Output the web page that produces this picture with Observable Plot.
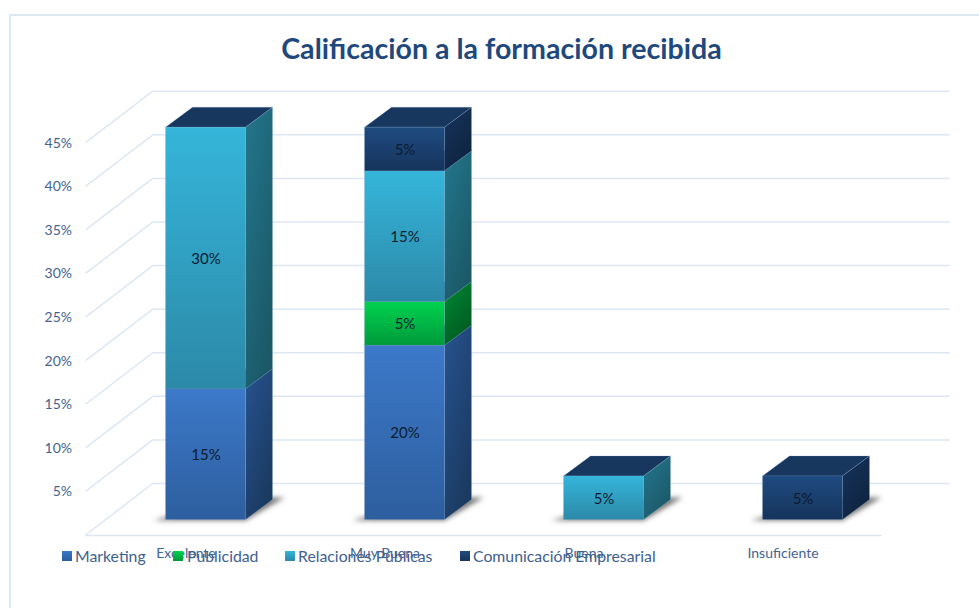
<!DOCTYPE html>
<html>
<head>
<meta charset="utf-8">
<script src="https://cdn.jsdelivr.net/npm/d3@7"></script>
<script src="https://cdn.jsdelivr.net/npm/@observablehq/plot@0.6"></script>
<style>
  html, body { margin: 0; padding: 0; background: #fff; }
  #frame { position: relative; width: 979px; height: 608px; overflow: hidden; font-family: Lato, sans-serif; }
  #frame svg { position: absolute; left: 0; top: 0; }
  #edge { position: absolute; left: 9px; top: 14px; width: 980px; height: 610px; border: 2px solid #dce7f4; box-sizing: border-box; }
  #title { position: absolute; left: 0; width: 1003px; top: 29px; text-align: center; font-size: 28.6px; font-weight: 700; color: #1f497d; line-height: 38px; }
  .lg { position: absolute; top: 545px; font-size: 15.8px; line-height: 21px; color: #40608e; white-space: nowrap; }
  .sw { position: absolute; top: 551px; width: 10px; height: 10px; }
</style>
</head>
<body>
<div id="frame"><div id="edge"></div></div>
<script>
const categories = ["Excelente", "Muy Buena", "Buena", "Insuficiente"];
const seriesNames = ["Marketing", "Publicidad", "Relaciones Públicas", "Comunicación Empresarial"];
const marketing = [15, 20, 0, 0];
const publicidad = [0, 5, 0, 0];
const relaciones = [30, 15, 5, 0];
const comunicacion = [0, 5, 0, 5];
const yTicks = [5, 10, 15, 20, 25, 30, 35, 40, 45];

const frontStops = [["#3c79c9", "#2d5e9e"], ["#00d24f", "#009a3a"], ["#35b5da", "#2c89a8"], ["#1f4b80", "#16345c"]];
const sideStops = [["#285390", "#1a3a60"], ["#008a32", "#005a22"], ["#24768c", "#1b5968"], ["#16345c", "#0f2340"]];
const topColor = "#17375e";
const legendX = [[62, 75], [173, 187], [285, 298], [460, 473]];

const rows = [];
[marketing, publicidad, relaciones, comunicacion].forEach((vals, s) => {
  vals.forEach((v, c) => { if (v > 0) rows.push({category: categories[c], series: seriesNames[s], s, value: v}); });
});

// depth of the 3D projection, in pixels
const wall = {dx: 68, dy: -52};
const bar = {dx: 20, dy: -15.5};
const depth = {dx: 27, dy: -20};
const inset = 59.5;
const grid = "#dde7f4";

const defs = () => {
  const d = d3.create("svg:defs");
  const grad = (id, stops, diag) => {
    const g = d.append("linearGradient").attr("id", id)
      .attr("x1", 0).attr("y1", 0).attr("x2", diag ? 0.6 : 0).attr("y2", 1);
    g.append("stop").attr("offset", 0).attr("stop-color", stops[0]);
    g.append("stop").attr("offset", 1).attr("stop-color", stops[1]);
  };
  frontStops.forEach((st, i) => grad("front" + i, st, false));
  sideStops.forEach((st, i) => grad("side" + i, st, true));
  d.append("filter").attr("id", "blur").attr("x", "-20%").attr("y", "-50%").attr("width", "140%").attr("height", "200%")
    .append("feGaussianBlur").attr("stdDeviation", 2.6);
  return d.node();
};

const diagonals = (index, {y}, values, {marginLeft}) => {
  const g = d3.create("svg:g");
  [0, ...yTicks].forEach(v => {
    g.append("line")
      .attr("x1", marginLeft).attr("y1", y(v))
      .attr("x2", marginLeft + wall.dx).attr("y2", y(v) + wall.dy)
      .attr("stroke", grid).attr("stroke-width", 1.5);
  });
  return g.node();
};

// parallelogram faces built on the stacked bar positions that Plot computes
const faces = (kind) => (index, scales, values) => {
  const g = d3.create("svg:g");
  const bw = typeof scales.x.bandwidth === "function" ? scales.x.bandwidth() : scales.x.bandwidth;
  const X = values.x, Y1 = values.y1, Y2 = values.y2;
  for (const i of index) {
    const x0 = X[i] + inset + bar.dx, x1 = X[i] + bw - inset + bar.dx;
    const lo = Math.max(Y1[i], Y2[i]) + bar.dy, hi = Math.min(Y1[i], Y2[i]) + bar.dy;
    if (kind === "shadow") {
      g.append("path").attr("fill", "#555").attr("fill-opacity", 0.8).attr("filter", "url(#blur)")
        .attr("d", `M${x0 - 12},${lo + 1}L${x1},${lo + 1}L${x1 + depth.dx + 12},${lo + depth.dy - 2}L${x0 + depth.dx + 40},${lo + depth.dy - 2}Z`);
    } else if (kind === "side") {
      g.append("path").attr("fill", `url(#side${rows[i].s})`).attr("stroke", "#7fa6cc").attr("stroke-opacity", 0.25)
        .attr("d", `M${x1},${lo}L${x1 + depth.dx},${lo + depth.dy}L${x1 + depth.dx},${hi + depth.dy}L${x1},${hi}Z`);
    } else {
      g.append("path").attr("fill", topColor).attr("stroke", "#7fa6cc").attr("stroke-opacity", 0.25)
        .attr("d", `M${x0},${hi}L${x1},${hi}L${x1 + depth.dx},${hi + depth.dy}L${x0 + depth.dx},${hi + depth.dy}Z`);
    }
  }
  return g.node();
};

const stackOpts = {x: "category", y: "value", order: null};
const baseRows = rows.filter(r => r.s === rows.filter(q => q.category === r.category)[0].s);

const chart = Plot.plot({
  width: 979,
  height: 608,
  marginLeft: 85.5,
  marginRight: 97.5,
  marginTop: 142.7,
  marginBottom: 73,
  style: {fontFamily: "Lato, sans-serif", background: "transparent", overflow: "visible"},
  x: {type: "band", domain: categories, padding: 0, label: null},
  y: {domain: [0, 45], label: null},
  color: {domain: seriesNames, range: frontStops.map((_, i) => `url(#front${i})`)},
  marks: [
    defs,
    Plot.ruleY([0, ...yTicks], {dx: wall.dx, dy: wall.dy, stroke: grid, strokeWidth: 1.5}),
    Plot.ruleY([0], {stroke: grid, strokeWidth: 1.5}),
    diagonals,
    Plot.axisY({ticks: yTicks, tickFormat: d => d + "%", tickSize: 0, tickPadding: 14, fontSize: 14, color: "#44638f", label: null}),
    Plot.axisX({tickSize: 0, tickPadding: 12.5, fontSize: 14, color: "#44638f", label: null}),
    Plot.barY(rows, Plot.stackY({...stackOpts, render: (i, s, v, d, c) => faces("shadow")(Array.from(i).filter(k => baseRows.includes(rows[k])), s, v)})),
    Plot.barY(rows, Plot.stackY({...stackOpts, render: faces("top")})),
    Plot.barY(rows, Plot.stackY({...stackOpts, render: faces("side")})),
    Plot.barY(rows, Plot.stackY({...stackOpts, fill: "series", insetLeft: inset, insetRight: inset, dx: bar.dx, dy: bar.dy, stroke: "#7fa6cc", strokeOpacity: 0.2})),
    Plot.text(rows, Plot.stackY({...stackOpts, text: d => d.value + "%", dx: bar.dx, dy: bar.dy + 0.5, fontSize: 15, fill: "#0c1c32"}))
  ]
});

const frame = document.getElementById("frame");
frame.appendChild(chart);

const title = document.createElement("div");
title.id = "title";
title.textContent = "Calificación a la formación recibida";
frame.appendChild(title);

seriesNames.forEach((name, i) => {
  const sw = document.createElement("div");
  sw.className = "sw";
  sw.style.left = legendX[i][0] + "px";
  sw.style.background = `linear-gradient(${frontStops[i][0]}, ${frontStops[i][1]})`;
  frame.appendChild(sw);
  const t = document.createElement("div");
  t.className = "lg";
  t.style.left = legendX[i][1] + "px";
  t.textContent = name;
  frame.appendChild(t);
});
</script>
</body>
</html>
